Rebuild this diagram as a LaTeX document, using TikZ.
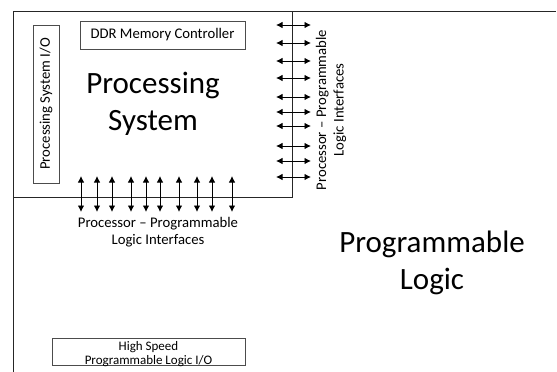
\documentclass[tikz,border=0pt]{standalone}
\usepackage{fontspec}
\setmainfont{Carlito}
\usepackage{tikz}
\usetikzlibrary{positioning}
\usetikzlibrary{arrows.meta}
\tikzset{
	frame/.style = {draw=black!85, line width=0.9pt},
	block/.style = {rectangle, draw=black!70, line width=0.8pt, inner sep=0pt, align=center},
	link/.style = {{Latex[length=6.5pt,width=6.5pt]}-{Latex[length=6.5pt,width=6.5pt]}, line width=0.9pt},
	small/.style = {font=\fontsize{14.7}{17.5}\selectfont, align=center},
	tiny/.style = {font=\fontsize{13}{14}\selectfont, align=center},
	big/.style = {font=\fontsize{31}{37}\selectfont, align=center},
}

\begin{document}
\begin{tikzpicture}[x=1pt, y=-1pt]
	\useasboundingbox (0,0) rectangle (557,372);
	% programmable logic and processing system outlines
	\coordinate (corner) at (13,11);
	\coordinate (plright) at (556,11);
	\coordinate (plbottom) at (13,372);
	\coordinate (psright) at (292,11);
	\coordinate (psbottom) at (13,197);
	\draw[frame] (plright) -- (corner) -- (plbottom);
	\draw[frame] (psbottom) -| (psright);
	% blocks inside the processing system
	\node (ddr) [block, small, minimum width=165pt, minimum height=28pt] at (162.5,35) {DDR Memory Controller};
	\node (psio) [block, small, rotate=90, minimum width=158pt, minimum height=26pt] at (46,104) {Processing System I/O};
	\node (ps) [big] at (153,104) {Processing\\System};
	% processor - programmable logic interfaces
	\foreach \x [count=\i] in {81,97,112,131,146,160,179,197,212,232} {
		\coordinate (bt\i) at (\x,176);
		\coordinate (bb\i) at (\x,212);
		\draw[link] (bt\i) -- (bb\i);
	}
	\foreach \y [count=\i] in {25,43,61,78,97,112,126,146,161,177} {
		\coordinate (rl\i) at (276,\y);
		\coordinate (rr\i) at (311,\y);
		\draw[link] (rl\i) -- (rr\i);
	}
	\node (bottomlbl) [small] at (158,232) {Processor -- Programmable\\Logic Interfaces};
	\node (rightlbl) [small, rotate=90] at (331,110) {Processor -- Programmable\\Logic Interfaces};
	% programmable logic
	\node (pl) [big] at (432,263) {Programmable\\Logic};
	\node (hsio) [block, minimum width=193pt, minimum height=27pt] at (148.5,351.5) {};
	\node (hstext) [tiny] at ([yshift=-2.5pt]hsio.center) {High Speed\\Programmable Logic I/O};
\end{tikzpicture}
\end{document}
